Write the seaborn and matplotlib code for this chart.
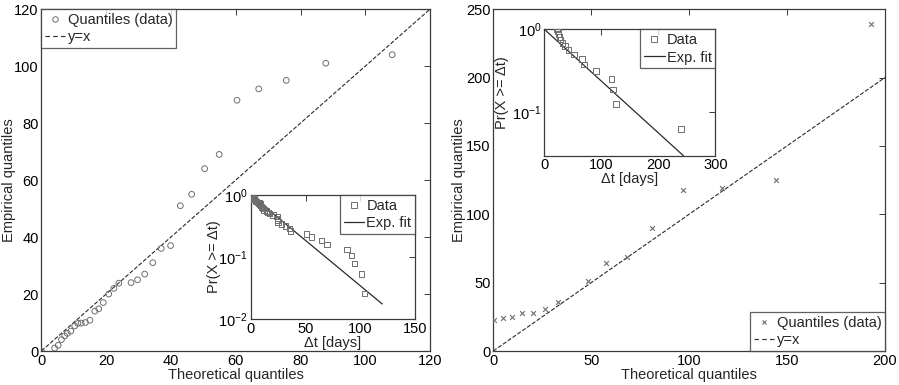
import numpy as np
import pandas as pd
import matplotlib
matplotlib.use("Agg")
import matplotlib.pyplot as plt
import seaborn as sns
from matplotlib.lines import Line2D
from matplotlib.ticker import NullLocator

# ---------------- data ----------------
# Left panel: Q-Q plot
left_theo = [0, 4.1, 5.2, 6.2, 7.2, 8.0, 9.1, 10.3, 11.3, 12.3, 13.6, 15.0, 16.5, 17.7,
             19.1, 20.8, 22.4, 23.9, 27.7, 29.7, 31.9, 34.4, 37.0, 39.9, 42.9, 46.4,
             50.4, 54.9, 60.4, 67.1, 75.6, 87.8, 108.3]
left_emp = [0, 1, 2, 4, 5.3, 6.2, 7, 8.8, 9.7, 9.8, 10, 10.8, 14, 14.8,
            17, 20, 22, 23.8, 24, 25, 27, 31, 36, 37, 51, 55,
            64, 69, 88, 92, 95, 101, 104]
left_ref = [0, 120]

# Left inset: CCDF
left_ccdf_x = [0.3, 0.6, 1.2, 2.0, 2.3, 3.0, 3.5, 4.2, 5.0, 6.5, 7.5, 8.5, 9.1, 10.0,
               10.5, 11.2, 12.0, 14.2, 16.0, 17.3, 20.4, 24.0, 24.3, 24.6, 24.9, 27.9,
               31.6, 35.5, 36.5, 51.1, 55.3, 64.5, 69.4, 87.9, 91.9, 94.9, 101.0, 103.7]
left_ccdf_y = [1.0, 0.974, 0.947, 0.921, 0.895, 0.868, 0.842, 0.816, 0.789, 0.763,
               0.737, 0.711, 0.684, 0.658, 0.632, 0.605, 0.579, 0.553, 0.526, 0.5,
               0.474, 0.447, 0.421, 0.395, 0.368, 0.342, 0.316, 0.289, 0.263, 0.237,
               0.21, 0.184, 0.158, 0.132, 0.105, 0.079, 0.053, 0.026]
left_fit_x = [0, 120]
left_fit_y = [1.0, 0.0175]

# Right panel: Q-Q plot
right_theo = [0.2, 4.8, 9.5, 14.7, 20.3, 26.4, 33.0, 48.2, 57.7, 68.4, 81.0, 96.7,
              116.6, 144.2, 192.9]
right_emp = [22.5, 24, 25, 28, 28, 31, 36, 51, 64, 69, 90, 118, 119, 125, 239]
right_ref = [0, 200]

# Right inset: CCDF
right_ccdf_x = [22.5, 23.5, 25.0, 26.5, 28.5, 31.5, 36.5, 42.0, 51.6, 65.6, 69.6, 90.2,
                118.2, 120.0, 125.3, 239.3]
right_ccdf_y = [1.0, 0.9375, 0.875, 0.8125, 0.75, 0.6875, 0.625, 0.5625, 0.5, 0.4375,
                0.375, 0.3125, 0.25, 0.1875, 0.125, 0.0625]
right_fit_x = [0, 244]
right_fit_y = [1.0, 0.03]

# ---------------- style ----------------
sns.set_style("white")
plt.rcParams["font.family"] = ["Liberation Sans", "DejaVu Sans"]
plt.rcParams["mathtext.fontset"] = "custom"
plt.rcParams["mathtext.rm"] = "Liberation Sans"
plt.rcParams["mathtext.it"] = "Liberation Sans"
plt.rcParams["axes.unicode_minus"] = False

FS = 10.5
SPINE = "#3a3a3a"
MK = "#6e6e6e"
LN = "#2a2a2a"

fig = plt.figure(figsize=(8.99, 3.85), dpi=100)


def style_axes(ax, fs=FS):
    for s in ax.spines.values():
        s.set_visible(True)
        s.set_color(SPINE)
        s.set_linewidth(0.9)
    ax.tick_params(direction="in", length=4, width=0.7, colors=SPINE,
                   top=True, right=True, labelsize=fs, labelcolor="black", pad=2)
    ax.set_facecolor("white")


def legend(ax, handles, loc, fs=FS):
    lg = ax.legend(handles=handles, loc=loc, borderaxespad=0, frameon=True,
                   fancybox=False, edgecolor=SPINE, fontsize=fs, handlelength=1.4,
                   handletextpad=0.15, labelspacing=0.25, borderpad=0.25)
    lg.get_frame().set_linewidth(0.9)
    return lg


# ---- left main ----
axL = fig.add_axes([0.046, 0.0883, 0.4324, 0.888])
sns.scatterplot(x=left_theo, y=left_emp, ax=axL, marker="o", s=17,
                facecolors="none", edgecolors=MK, linewidths=0.7, zorder=3)
sns.lineplot(x=left_ref, y=left_ref, ax=axL, color=LN, linestyle="--",
             linewidth=0.8, dashes=(4, 3))
axL.set_xlim(0, 120)
axL.set_ylim(0, 120)
axL.set_xticks([0, 20, 40, 60, 80, 100, 120])
axL.set_yticks([0, 20, 40, 60, 80, 100, 120])
axL.set_xlabel("Theoretical quantiles", fontsize=FS, labelpad=0)
axL.set_ylabel("Empirical quantiles", fontsize=FS)
axL.yaxis.set_label_coords(-0.065, 0.5)
style_axes(axL)
legend(axL, [Line2D([], [], marker="o", ls="none", mfc="none", mec=MK, ms=4, mew=0.7,
                    label="Quantiles (data)"),
             Line2D([], [], color=LN, ls="--", lw=0.8, dashes=(4, 3), label="y=x")],
       "upper left")

# ---- left inset ----
axLi = fig.add_axes([0.2789, 0.1714, 0.1828, 0.322])
sns.scatterplot(x=left_ccdf_x, y=left_ccdf_y, ax=axLi, marker="s", s=16,
                facecolors="none", edgecolors=MK, linewidths=0.7, zorder=3)
sns.lineplot(x=left_fit_x, y=left_fit_y, ax=axLi, color=LN, linewidth=0.9)
axLi.set_yscale("log")
axLi.set_xlim(0, 150)
axLi.set_ylim(0.01, 1)
axLi.set_xticks([0, 50, 100, 150])
axLi.set_yticks([0.01, 0.1, 1])
axLi.set_yticklabels([r"$10^{-2}$", r"$10^{-1}$", r"$10^{0}$"])
axLi.yaxis.set_minor_locator(NullLocator())
axLi.set_xlabel("Δt [days]", fontsize=FS, labelpad=0)
axLi.set_ylabel("Pr(X >= Δt)", fontsize=FS)
axLi.yaxis.set_label_coords(-0.181, 0.5)
style_axes(axLi)
legend(axLi, [Line2D([], [], marker="s", ls="none", mfc="none", mec=MK, ms=4, mew=0.7,
                     label="Data"),
              Line2D([], [], color=LN, lw=0.9, label="Exp. fit")],
       "upper right")

# ---- right main ----
axR = fig.add_axes([0.5487, 0.0883, 0.4357, 0.888])
sns.scatterplot(x=right_theo, y=right_emp, ax=axR, marker="x", s=12,
                color=MK, linewidth=0.8, zorder=3)
sns.lineplot(x=right_ref, y=right_ref, ax=axR, color=LN, linestyle="--",
             linewidth=0.8, dashes=(4, 3))
axR.set_xlim(0, 200)
axR.set_ylim(0, 250)
axR.set_xticks([0, 50, 100, 150, 200])
axR.set_yticks([0, 50, 100, 150, 200, 250])
axR.set_xlabel("Theoretical quantiles", fontsize=FS, labelpad=0)
axR.set_ylabel("Empirical quantiles", fontsize=FS)
axR.yaxis.set_label_coords(-0.0697, 0.5)
style_axes(axR)
legend(axR, [Line2D([], [], marker="x", ls="none", color=MK, ms=3.5, mew=0.8,
                    label="Quantiles (data)"),
             Line2D([], [], color=LN, ls="--", lw=0.8, dashes=(4, 3), label="y=x")],
       "lower right")

# ---- right inset ----
axRi = fig.add_axes([0.6055, 0.5956, 0.1902, 0.3283])
sns.scatterplot(x=right_ccdf_x, y=right_ccdf_y, ax=axRi, marker="s", s=16,
                facecolors="none", edgecolors=MK, linewidths=0.7, zorder=3)
sns.lineplot(x=right_fit_x, y=right_fit_y, ax=axRi, color=LN, linewidth=0.9)
axRi.set_yscale("log")
axRi.set_xlim(0, 300)
axRi.set_ylim(0.03, 1)
axRi.set_xticks([0, 100, 200, 300])
axRi.set_yticks([0.1, 1])
axRi.set_yticklabels([r"$10^{-1}$", r"$10^{0}$"])
axRi.yaxis.set_minor_locator(NullLocator())
axRi.set_xlabel("Δt [days]", fontsize=FS, labelpad=0)
axRi.set_ylabel("Pr(X >= Δt)", fontsize=FS)
axRi.yaxis.set_label_coords(-0.205, 0.5)
style_axes(axRi)
legend(axRi, [Line2D([], [], marker="s", ls="none", mfc="none", mec=MK, ms=4, mew=0.7,
                     label="Data"),
              Line2D([], [], color=LN, lw=0.9, label="Exp. fit")],
       "upper right")

fig.savefig("out.png", dpi=100)
